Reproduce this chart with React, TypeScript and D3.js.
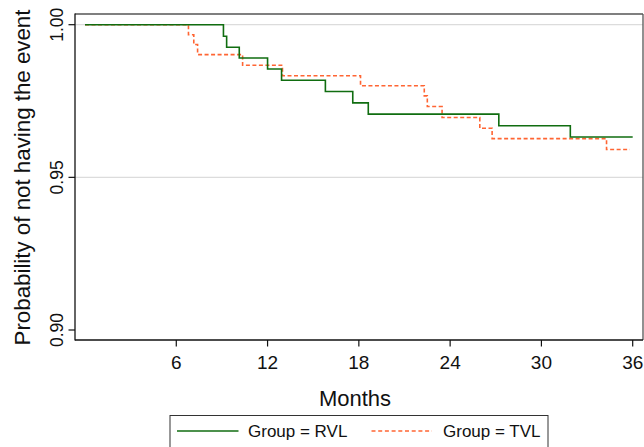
import React from "react";
import * as d3 from "d3";

const rvlTimes = [0, 9.1, 9.31, 10.14, 12.0, 12.92, 15.8, 17.6, 18.62, 27.2, 31.9, 36.0];
const rvlSurv = [1.0, 0.9962, 0.9926, 0.9891, 0.9855, 0.9818, 0.9781, 0.9744, 0.9707, 0.9669, 0.9632, 0.9632];
const tvlTimes = [0, 6.8, 7.15, 7.4, 10.36, 12.98, 18.11, 22.3, 22.5, 23.47, 25.95, 26.76, 34.28, 35.81];
const tvlSurv = [1.0, 0.9967, 0.9935, 0.9902, 0.9867, 0.9833, 0.98, 0.9767, 0.9732, 0.9696, 0.9661, 0.9627, 0.9591, 0.9591];
const xTicks = [6, 12, 18, 24, 30, 36];
const yTicks = [0.9, 0.95, 1.0];
const yGrid = [0.95, 1.0];
const legendLabels = ["Group = RVL", "Group = TVL"];

const W = 644, H = 447;
const frame = { left: 75, right: 643, top: 14, bottom: 340 };
const FONT = "'Liberation Sans', Arial, Helvetica, sans-serif";
const GREEN = "#106d10";
const ORANGE = "#ff6533";

export default function App() {
  const x = d3.scaleLinear().domain([0, 36]).range([85, 632.7]);
  const y = d3.scaleLinear().domain([0.9, 1.0]).range([330, 24.7]);
  const line = d3
    .line<[number, number]>()
    .x((d) => x(d[0]))
    .y((d) => y(d[1]))
    .curve(d3.curveStepAfter);
  const rvl = rvlTimes.map((t, i) => [t, rvlSurv[i]] as [number, number]);
  const tvl = tvlTimes.map((t, i) => [t, tvlSurv[i]] as [number, number]);

  return (
    <svg
      width={W}
      height={H}
      style={{ position: "absolute", left: 0, top: 0, background: "#fff" }}
      fontFamily={FONT}
    >
      <rect x={0} y={0} width={W} height={H} fill="#fff" />
      {yGrid.map((v) => (
        <line key={v} x1={frame.left} x2={frame.right} y1={y(v)} y2={y(v)} stroke="#dcdcdc" strokeWidth={1.3} />
      ))}
      {/* frame */}
      <line x1={frame.left} x2={frame.right} y1={frame.top} y2={frame.top} stroke="#555" strokeWidth={1.3} />
      <line x1={frame.right} x2={frame.right} y1={frame.top} y2={frame.bottom} stroke="#555" strokeWidth={1.3} />
      <line x1={frame.left} x2={frame.left} y1={frame.top - 0.6} y2={frame.bottom + 0.6} stroke="#111" strokeWidth={1.3} />
      <line x1={frame.left} x2={frame.right} y1={frame.bottom} y2={frame.bottom} stroke="#111" strokeWidth={1.3} />
      {/* curves */}
      <path d={line(tvl) || ""} fill="none" stroke={ORANGE} strokeWidth={1.6} strokeDasharray="4,2.5" />
      <path d={line(rvl) || ""} fill="none" stroke={GREEN} strokeWidth={1.6} />
      {/* x ticks */}
      {xTicks.map((t) => (
        <g key={t}>
          <line x1={x(t)} x2={x(t)} y1={frame.bottom} y2={frame.bottom + 6.5} stroke="#111" strokeWidth={1.2} />
          <text x={x(t)} y={368.5} textAnchor="middle" fontSize={19} fill="#111">
            {t}
          </text>
        </g>
      ))}
      {/* y ticks */}
      {yTicks.map((v) => (
        <g key={v}>
          <line x1={frame.left - 6.5} x2={frame.left} y1={y(v)} y2={y(v)} stroke="#111" strokeWidth={1.2} />
          <text
            transform={`translate(62.5,${y(v)}) rotate(-90)`}
            textAnchor="middle"
            fontSize={17.5}
            fill="#111"
          >
            {d3.format(".2f")(v)}
          </text>
        </g>
      ))}
      <text x={355} y={405.5} textAnchor="middle" fontSize={22} fill="#111">
        Months
      </text>
      <text
        transform={`translate(29.5,177.5) rotate(-90)`}
        textAnchor="middle"
        fontSize={22.3}
        fill="#111"
      >
        Probability of not having the event
      </text>
      {/* legend */}
      <rect x={170} y={415.5} width={378} height={40} fill="#fff" stroke="#333" strokeWidth={1} />
      <line x1={177} x2={238.5} y1={431} y2={431} stroke={GREEN} strokeWidth={1.4} />
      <text x={248} y={437} fontSize={17} fill="#111">
        {legendLabels[0]}
      </text>
      <line x1={371.5} x2={432} y1={431} y2={431} stroke={ORANGE} strokeWidth={1.4} strokeDasharray="4,2.7" />
      <text x={443} y={437} fontSize={17} fill="#111">
        {legendLabels[1]}
      </text>
    </svg>
  );
}
